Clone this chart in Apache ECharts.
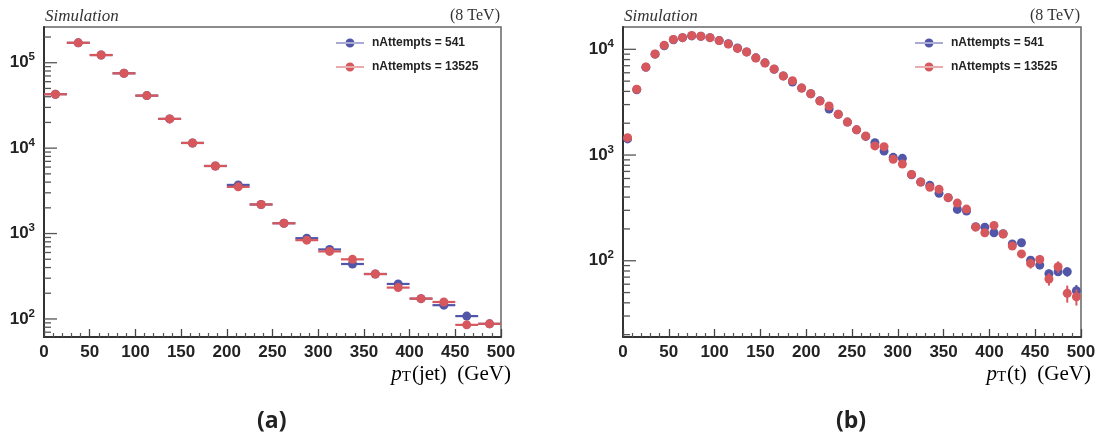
<!DOCTYPE html>
<html>
<head>
<meta charset="utf-8">
<script src="https://cdn.jsdelivr.net/npm/echarts@6/dist/echarts.min.js"></script>
<style>html,body{margin:0;padding:0;background:#fff;}#c{width:1101px;height:441px;}</style>
</head>
<body>
<div id="c"></div>
<script>
// ---------- data: panel (a) p_T(jet), 25 GeV bins ----------
const xA = [12.5, 37.5, 62.5, 87.5, 112.5, 137.5, 162.5, 187.5, 212.5, 237.5,
            262.5, 287.5, 312.5, 337.5, 362.5, 387.5, 412.5, 437.5, 462.5, 487.5];
const blueA = [42800, 171000, 123000, 75200, 41200, 22000, 11500, 6180, 3710, 2190,
               1320, 883, 652, 440, 336, 257, 173, 145, 108, 87.7];
const redA  = [42800, 171000, 123000, 75200, 41200, 22000, 11500, 6180, 3520, 2190,
               1320, 837, 618, 499, 336, 233, 173, 158, 85.3, 87.7];

// ---------- data: panel (b) p_T(t), 10 GeV bins ----------
const xB = [5, 15, 25, 35, 45, 55, 65, 75, 85, 95,
            105, 115, 125, 135, 145, 155, 165, 175, 185, 195,
            205, 215, 225, 235, 245, 255, 265, 275, 285, 295,
            305, 315, 325, 335, 345, 355, 365, 375, 385, 395,
            405, 415, 425, 435, 445, 455, 465, 475, 485, 495];
const blueB = [1420, 4150, 6750, 9000, 10800, 12300, 12900, 13400, 13300, 12900,
               12100, 11300, 10300, 9450, 8300, 7450, 6480, 5600, 4910, 4300,
               3800, 3260, 2720, 2430, 2050, 1730, 1500, 1310, 1090, 951,
               931, 650, 556, 517, 434, 395, 306, 295, 210, 208,
               184, 180, 144, 148, 101, 91, 75.4, 78.7, 78.7, 52];
const redB  = [1460, 4190, 6800, 9030, 10900, 12400, 12900, 13500, 13300, 12900,
               12100, 11200, 10200, 9430, 8280, 7420, 6510, 5590, 5040, 4310,
               3800, 3240, 2910, 2430, 2050, 1730, 1510, 1220, 1200, 910,
               822, 656, 556, 495, 474, 395, 351, 308, 208, 184,
               216, 179, 138, 116, 94.4, 103, 67.2, 87.7, 49.2, 45.7];
const errBlueB = [0, 0, 0, 0, 0, 0, 0, 0, 0, 0,
                  0, 0, 0, 0, 0, 0, 0, 0, 0, 0,
                  0, 0, 0, 0, 0, 0, 0, 0, 0, 0,
                  0, 0, 0, 0, 0, 0, 0, 0, 8, 8,
                  8, 8, 8, 8, 8, 8, 7, 7, 8, 7];
const errRedB  = [0, 0, 0, 0, 0, 0, 0, 0, 0, 0,
                  0, 0, 0, 0, 0, 0, 0, 0, 0, 0,
                  0, 0, 0, 0, 0, 0, 0, 0, 0, 0,
                  0, 0, 0, 0, 0, 0, 0, 0, 10, 10,
                  10, 10, 10, 10, 10, 10, 9, 11, 9, 8];

// ---------- ticks / labels ----------
const xTickLabels = ['0', '50', '100', '150', '200', '250', '300', '350', '400', '450', '500'];
const yDecadesA = [10, 100, 1000, 10000, 100000];
const yDecadesB = [10, 100, 1000, 10000];
const seriesNames = ['nAttempts = 541', 'nAttempts = 13525'];

// ---------- styles ----------
const BLUE = '#5256a9';
const RED = '#d6585c';
const SANS = '"Liberation Sans", Arial, Helvetica, sans-serif';
const SERIF = '"Liberation Serif", "Times New Roman", serif';

const yRangeA = [61.5, 262000];
const yRangeB = [19.0, 16260];

function yTickData(decades, range) {
  const out = [];
  decades.forEach(d => {
    for (let m = 1; m <= 9; m++) {
      const v = m * d;
      if (v >= range[0] && v <= range[1]) out.push([0, v, m === 1 ? 13 : 7]);
    }
  });
  return out;
}
function tickRender(params, api) {
  const p = api.coord([api.value(0), api.value(1)]);
  return { type: 'line', shape: { x1: p[0], y1: p[1], x2: p[0] + api.value(2), y2: p[1] },
           style: { stroke: '#555', lineWidth: 1.3 } };
}
function hBar(half, color) {
  return function (params, api) {
    const x = api.value(0), y = api.value(1);
    const a = api.coord([x - half, y]), b = api.coord([x + half, y]);
    return { type: 'line', shape: { x1: a[0], y1: a[1], x2: b[0], y2: b[1] },
             style: { stroke: color, lineWidth: 2.2 } };
  };
}
function vBar(color) {
  return function (params, api) {
    const x = api.value(0), y = api.value(1), e = api.value(2);
    if (!e) return null;
    const a = api.coord([x, y - e]), b = api.coord([x, y + e]);
    return { type: 'line', shape: { x1: a[0], y1: a[1], x2: b[0], y2: b[1] },
             style: { stroke: color, lineWidth: 2 } };
  };
}
function yLabel(v) {
  const e = Math.round(Math.log10(v));
  if (Math.abs(Math.log10(v) - e) > 1e-6) return '';
  return '{b|10}{s|' + e + '}';
}
const yLabelRich = {
  b: { fontSize: 17, fontWeight: 'bold', fontFamily: SANS, color: '#222', lineHeight: 17, verticalAlign: 'bottom', padding: [3, 0, 0, 0] },
  s: { fontSize: 11.5, fontWeight: 'bold', fontFamily: SANS, color: '#222', lineHeight: 12, padding: [0, 0, 8, 0], verticalAlign: 'bottom' }
};

function xAxisCfg(gi) {
  return {
    type: 'value', gridIndex: gi, min: 0, max: 500, interval: 50,
    axisLine: { lineStyle: { color: '#333', width: 2 } },
    axisTick: { inside: true, length: 8, lineStyle: { color: '#444', width: 1.3 } },
    minorTick: { show: true, splitNumber: 5, length: 4, lineStyle: { color: '#555', width: 1.2 } },
    splitLine: { show: false },
    axisLabel: { fontSize: 17, fontWeight: 'bold', fontFamily: SANS, color: '#222', margin: 7,
                 formatter: v => xTickLabels[Math.round(v / 50)] }
  };
}
function yAxisCfg(gi, range) {
  return {
    type: 'log', logBase: 10, gridIndex: gi, min: range[0], max: range[1],
    axisLine: { lineStyle: { color: '#333', width: 2 } },
    axisTick: { show: false },
    splitLine: { show: false },
    axisLabel: { formatter: yLabel, rich: yLabelRich, margin: 9, showMinLabel: false, showMaxLabel: false }
  };
}

const LEG_ICON = 'path://M0,4.4H28V5.6H0Z M9.5,5a4.5,4.5 0 1,0 9,0a4.5,4.5 0 1,0 -9,0Z';
function legendCfg(left) {
  return {
    left: left, top: 32, orient: 'vertical', itemWidth: 28, itemHeight: 9, itemGap: 12,
    selectedMode: false,
    textStyle: { fontSize: 12, fontWeight: 'bold', fontFamily: SANS, color: '#222', padding: [0, 0, 0, 3] },
    data: seriesNames.map(n => ({ name: n, icon: LEG_ICON }))
  };
}

function panelSeries(gi, xs, blue, red, errMode, errB, errR) {
  const s = [];
  s.push({ type: 'custom', name: 'yticks' + gi, xAxisIndex: gi, yAxisIndex: gi, silent: true, z: 3,
           encode: { x: 0, y: 1 }, renderItem: tickRender,
           data: yTickData(gi === 0 ? yDecadesA : yDecadesB, gi === 0 ? yRangeA : yRangeB) });
  const half = (xs[1] - xs[0]) / 2;
  [[blue, BLUE, errB, 0], [red, RED, errR, 1]].forEach(([vals, col, err, k]) => {
    if (errMode === 'h') {
      s.push({ type: 'custom', name: 'err' + gi + k, xAxisIndex: gi, yAxisIndex: gi, silent: true,
               z: 4 + 2 * k, encode: { x: 0, y: 1 }, renderItem: hBar(half, col),
               data: xs.map((x, i) => [x, vals[i]]) });
    } else {
      s.push({ type: 'custom', name: 'err' + gi + k, xAxisIndex: gi, yAxisIndex: gi, silent: true,
               z: 4 + 2 * k, encode: { x: 0, y: 1 }, renderItem: vBar(col),
               data: xs.map((x, i) => [x, vals[i], err[i]]) });
    }
    s.push({ type: 'scatter', name: seriesNames[k], xAxisIndex: gi, yAxisIndex: gi,
             z: 5 + 2 * k, symbol: 'circle', symbolSize: 9,
             itemStyle: { color: col, opacity: 1 },
             data: xs.map((x, i) => [x, vals[i]]) });
  });
  return s;
}

const titleRich = {
  p: { fontFamily: SERIF, fontStyle: 'italic', fontSize: 21, lineHeight: 21, verticalAlign: 'top', color: '#222' },
  t: { fontFamily: SERIF, fontSize: 15, lineHeight: 15, padding: [9, 1, 0, 0], verticalAlign: 'bottom', color: '#222' },
  n: { fontFamily: SERIF, fontSize: 21, lineHeight: 21, verticalAlign: 'top', color: '#222' }
};

const chart = echarts.init(document.getElementById('c'), null, { renderer: 'canvas' });
chart.setOption({
  animation: false,
  backgroundColor: '#fff',
  grid: [
    { left: 44, top: 27, width: 457, height: 310, show: true, borderColor: '#666', borderWidth: 1.5, containLabel: false },
    { left: 623, top: 27, width: 458, height: 310, show: true, borderColor: '#666', borderWidth: 1.5, containLabel: false }
  ],
  xAxis: [xAxisCfg(0), xAxisCfg(1)],
  yAxis: [yAxisCfg(0, yRangeA), yAxisCfg(1, yRangeB)],
  legend: [legendCfg(331), legendCfg(910)],
  series: panelSeries(0, xA, blueA, redA, 'h').concat(panelSeries(1, xB, blueB, redB, 'v', errBlueB, errRedB)),
  graphic: [
    { type: 'text', left: 45, top: 8, style: { text: 'Simulation', font: 'italic 17px ' + SERIF, fill: '#333' } },
    { type: 'text', right: 601, top: 8, style: { text: '(8 TeV)', font: '16px ' + SERIF, fill: '#333' } },
    { type: 'text', left: 624, top: 8, style: { text: 'Simulation', font: 'italic 17px ' + SERIF, fill: '#333' } },
    { type: 'text', right: 21, top: 8, style: { text: '(8 TeV)', font: '16px ' + SERIF, fill: '#333' } },
    { type: 'text', right: 590, top: 361, style: { text: '{p|p}{t|T}{n|(jet)  (GeV)}', rich: titleRich } },
    { type: 'text', right: 10, top: 361, style: { text: '{p|p}{t|T}{n|(t)  (GeV)}', rich: titleRich } },
    { type: 'text', left: 257, top: 410, style: { text: '(a)', font: 'bold 23px "Open Sans", "Noto Sans", sans-serif', fill: '#222' } },
    { type: 'text', left: 836, top: 410, style: { text: '(b)', font: 'bold 23px "Open Sans", "Noto Sans", sans-serif', fill: '#222' } }
  ]
});
</script>
</body>
</html>
